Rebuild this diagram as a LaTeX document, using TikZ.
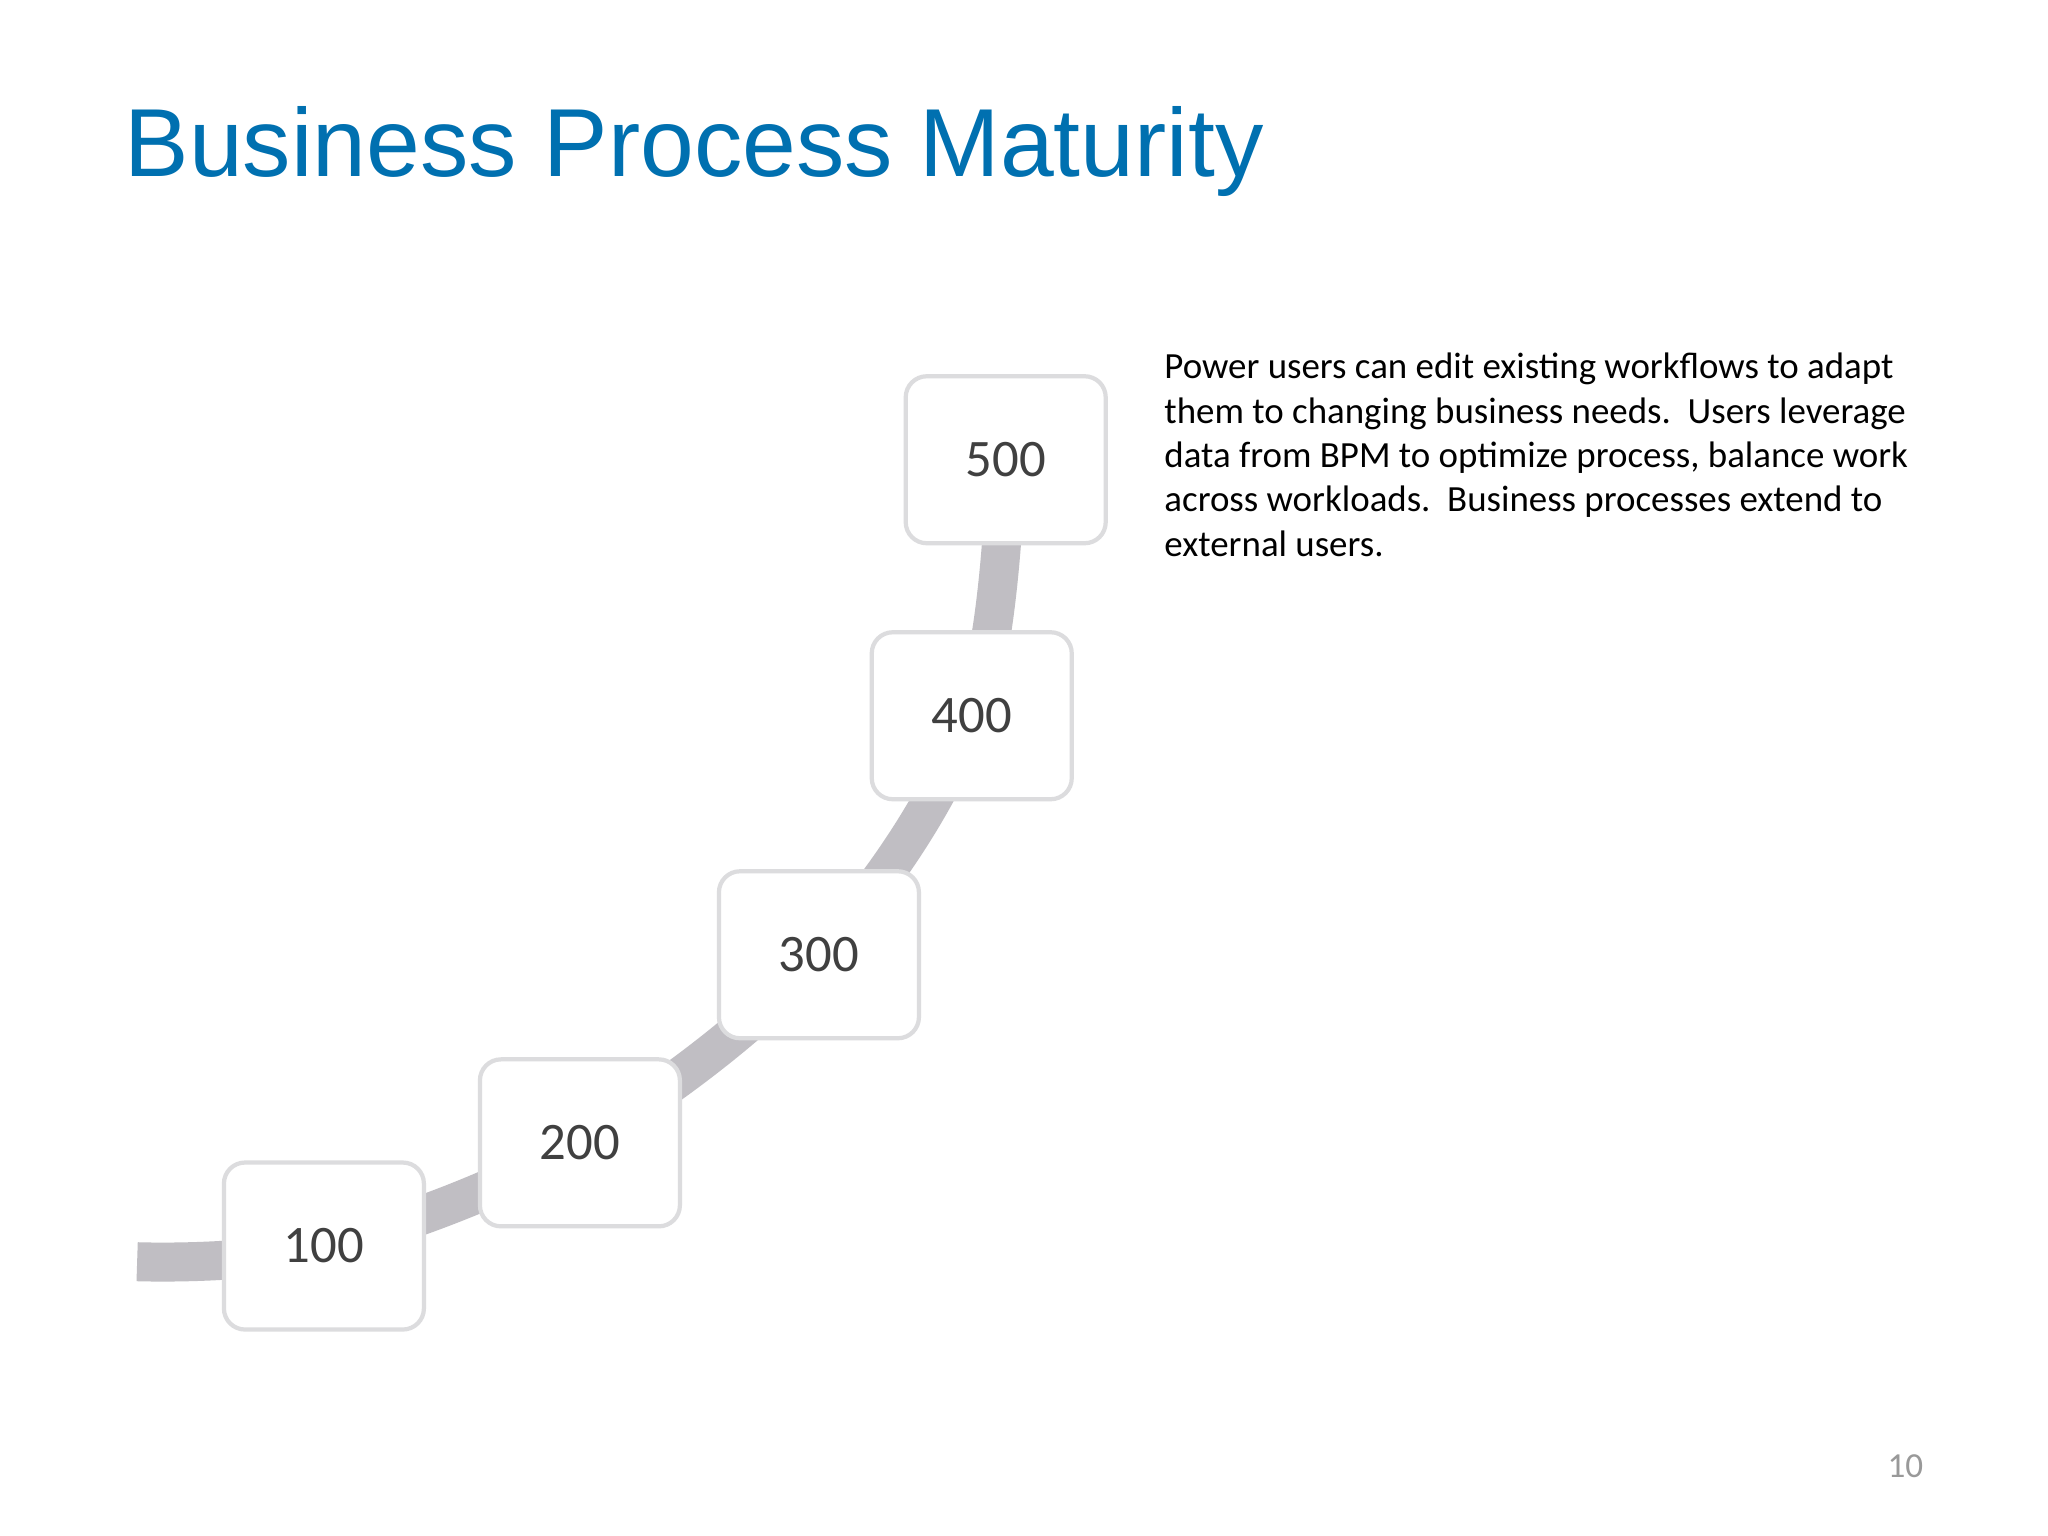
\documentclass[tikz,border=0pt]{standalone}
\usepackage{fontspec}
\setmainfont{Carlito}
\newfontfamily\titlefont{Liberation Sans}
\definecolor{titleblue}{RGB}{0,112,176}
\definecolor{pathgray}{RGB}{192,190,195}
\definecolor{boxline}{RGB}{220,220,222}
\definecolor{numgray}{RGB}{64,64,64}
\begin{document}
\begin{tikzpicture}[x=0.01306cm,y=-0.01306cm,
  stepbox/.style={draw=boxline,line width=1.2pt,fill=white,rounded corners=6pt,
    minimum width=2.0cm,minimum height=1.67cm,font=\fontsize{15}{18}\selectfont,text=numgray}]
\useasboundingbox[fill=white] (0,0) rectangle (1568,1176);
\node[anchor=base west,inner sep=0,text=titleblue,font=\titlefont\fontsize{27.5}{32}\selectfont] (title) at (95,135) {Business Process Maturity};
\coordinate (start) at (105,966);
\coordinate (c1) at (248,954);
\coordinate (c2) at (444,875);
\coordinate (c3) at (627,731);
\coordinate (c4) at (744,548);
\coordinate (c5) at (770,352);
\draw[pathgray,line width=0.39cm] plot[smooth,tension=0.6] coordinates {(start) (c1) (c2) (c3) (c4) (c5)};
\node[stepbox] (b1) at (c1) {100};
\node[stepbox] (b2) at (c2) {200};
\node[stepbox] (b3) at (c3) {300};
\node[stepbox] (b4) at (c4) {400};
\node[stepbox] (b5) at (c5) {500};
\node[anchor=north west,inner sep=0,align=left,font=\fontsize{10.5}{12.6}\selectfont,text=black] (desc) at (891,270)
{Power users can edit existing workflows to adapt\\them to changing business needs.\ \ Users leverage\\data from BPM to optimize process, balance work\\across workloads.\ \ Business processes extend to\\external users.};
\node[anchor=base east,inner sep=0,text=gray!80,font=\fontsize{10}{12}\selectfont] (page) at (1473,1131) {10};
\end{tikzpicture}
\end{document}
